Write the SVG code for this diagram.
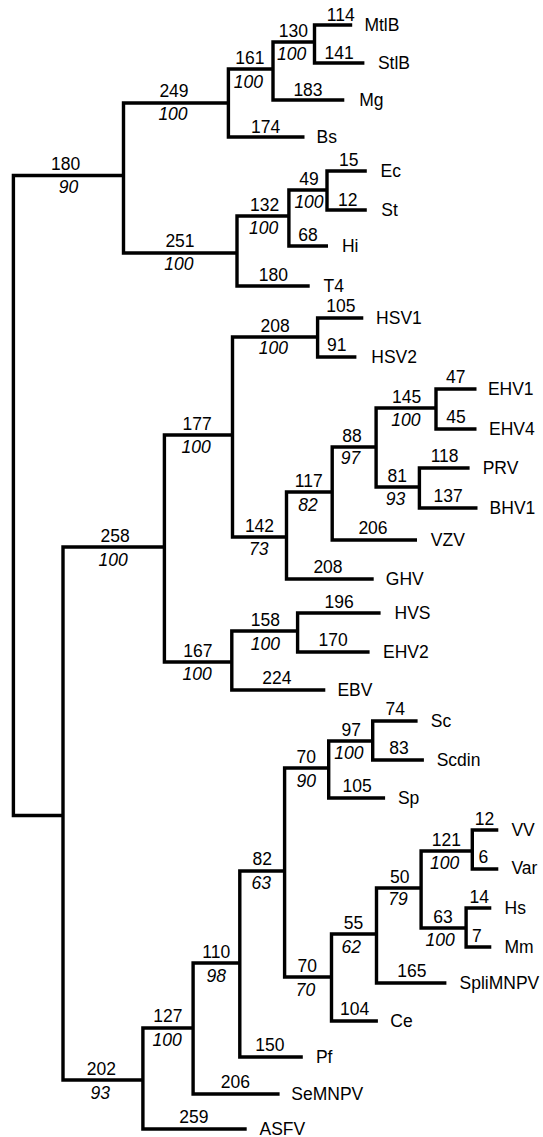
<svg xmlns="http://www.w3.org/2000/svg" width="543" height="1137" viewBox="0 0 543 1137">
<style>
text{font-family:"Liberation Sans",Arial,Helvetica,sans-serif;font-size:17.5px;fill:#000}
.n{text-anchor:middle}
.b{text-anchor:middle;font-style:italic}
.l{text-anchor:start}
.e{fill:none;stroke:#000;stroke-width:3.4;stroke-linejoin:miter;stroke-linecap:butt}
</style>
<rect width="543" height="1137" fill="#fff"/>
<g id="connectors" class="e">
<path d="M 123.5 175.5 H 13.4 V 815.5 H 63"/>
<path d="M 228.4 103 H 123.5 V 253 H 237"/>
<path d="M 273 69 H 228.4 V 137 H 304.5"/>
<path d="M 314.5 42 H 273 V 100 H 344.3"/>
<path d="M 352.2 25 H 314.5 V 63 H 364.4"/>
<path d="M 288.9 216 H 237 V 286 H 309.7"/>
<path d="M 327 190 H 288.9 V 246 H 328"/>
<path d="M 366.8 171 H 327 V 210 H 366.8"/>
<path d="M 164.4 547 H 63 V 1080 H 142.9"/>
<path d="M 232.5 435 H 164.4 V 662 H 231.8"/>
<path d="M 317.6 337 H 232.5 V 537 H 286.5"/>
<path d="M 363.3 318 H 317.6 V 357 H 356.4"/>
<path d="M 332.2 492 H 286.5 V 579 H 373.7"/>
<path d="M 376.1 447 H 332.2 V 540 H 417"/>
<path d="M 436 408 H 376.1 V 487 H 419.4"/>
<path d="M 476.5 389 H 436 V 429 H 476.5"/>
<path d="M 469.6 468 H 419.4 V 508 H 477.5"/>
<path d="M 297.6 631 H 231.8 V 690 H 325.3"/>
<path d="M 380.6 613 H 297.6 V 652 H 369.6"/>
<path d="M 193.1 1028 H 142.9 V 1129 H 246.7"/>
<path d="M 239.8 963 H 193.1 V 1094 H 279.6"/>
<path d="M 284.6 871 H 239.8 V 1057 H 302.8"/>
<path d="M 328.7 768 H 284.6 V 977 H 331.5"/>
<path d="M 372.7 741 H 328.7 V 798 H 385.1"/>
<path d="M 417.6 721 H 372.7 V 760 H 423.9"/>
<path d="M 376.5 934 H 331.5 V 1021 H 377.9"/>
<path d="M 421.1 888 H 376.5 V 983 H 446.4"/>
<path d="M 472.3 851 H 421.1 V 928 H 466.1"/>
<path d="M 498.3 830 H 472.3 V 869 H 498.3"/>
<path d="M 491.3 908 H 466.1 V 947 H 491.3"/>
</g>
<g id="internal-labels">
<g id="n180"><text class="n" x="65.7" y="170">180</text><text class="b" x="68.5" y="193">90</text></g>
<g id="n249"><text class="n" x="174" y="97">249</text><text class="b" x="173" y="120">100</text></g>
<g id="n161"><text class="n" x="249.8" y="64">161</text><text class="b" x="248.4" y="88">100</text></g>
<g id="n130"><text class="n" x="293.4" y="37">130</text><text class="b" x="291.7" y="60">100</text></g>
<g id="n251"><text class="n" x="180" y="247">251</text><text class="b" x="178.9" y="270">100</text></g>
<g id="n132"><text class="n" x="264.7" y="211">132</text><text class="b" x="263.7" y="234">100</text></g>
<g id="n49"><text class="n" x="309" y="185">49</text><text class="b" x="309" y="208">100</text></g>
<g id="n258"><text class="n" x="115.2" y="542">258</text><text class="b" x="113.1" y="566">100</text></g>
<g id="n177"><text class="n" x="197.2" y="430">177</text><text class="b" x="196.2" y="453">100</text></g>
<g id="n208"><text class="n" x="275.1" y="332">208</text><text class="b" x="273.4" y="354">100</text></g>
<g id="n142"><text class="n" x="259.5" y="532">142</text><text class="b" x="258.8" y="555">73</text></g>
<g id="n117"><text class="n" x="308.7" y="487">117</text><text class="b" x="308" y="511">82</text></g>
<g id="n88"><text class="n" x="351.9" y="442">88</text><text class="b" x="350.5" y="464">97</text></g>
<g id="n145"><text class="n" x="406.6" y="403">145</text><text class="b" x="405.9" y="426">100</text></g>
<g id="n81"><text class="n" x="397.2" y="482">81</text><text class="b" x="395.5" y="505">93</text></g>
<g id="n167"><text class="n" x="197.9" y="657">167</text><text class="b" x="197.2" y="680">100</text></g>
<g id="n158"><text class="n" x="265.4" y="626">158</text><text class="b" x="265.4" y="650">100</text></g>
<g id="n202"><text class="n" x="101.4" y="1075">202</text><text class="b" x="100.3" y="1099">93</text></g>
<g id="n127"><text class="n" x="167.8" y="1022">127</text><text class="b" x="167.1" y="1046">100</text></g>
<g id="n110"><text class="n" x="216.3" y="958">110</text><text class="b" x="216.3" y="982">98</text></g>
<g id="n82"><text class="n" x="262.3" y="865">82</text><text class="b" x="261.2" y="889">63</text></g>
<g id="n70a"><text class="n" x="306.2" y="763">70</text><text class="b" x="306.2" y="787">90</text></g>
<g id="n97"><text class="n" x="351.2" y="736">97</text><text class="b" x="348.8" y="759">100</text></g>
<g id="n70b"><text class="n" x="307.3" y="972">70</text><text class="b" x="305.5" y="996">70</text></g>
<g id="n55"><text class="n" x="353.6" y="929">55</text><text class="b" x="351.2" y="953">62</text></g>
<g id="n50"><text class="n" x="399.7" y="883">50</text><text class="b" x="397.9" y="905">79</text></g>
<g id="n121"><text class="n" x="446.4" y="846">121</text><text class="b" x="444.6" y="869">100</text></g>
<g id="n63"><text class="n" x="442.9" y="923">63</text><text class="b" x="440.1" y="946">100</text></g>
</g>
<g id="leaves">
<g id="MtlB"><text class="n" x="340.8" y="21">114</text><text class="l" x="364.4" y="31">MtlB</text></g>
<g id="StlB"><text class="n" x="339.1" y="59">141</text><text class="l" x="377.9" y="69">StlB</text></g>
<g id="Mg"><text class="n" x="308" y="96">183</text><text class="l" x="359.2" y="106">Mg</text></g>
<g id="Bs"><text class="n" x="265.7" y="133">174</text><text class="l" x="316.6" y="143">Bs</text></g>
<g id="Ec"><text class="n" x="348.8" y="166">15</text><text class="l" x="380.6" y="177">Ec</text></g>
<g id="St"><text class="n" x="347.8" y="206">12</text><text class="l" x="381.3" y="216">St</text></g>
<g id="Hi"><text class="n" x="308" y="241">68</text><text class="l" x="341.9" y="252">Hi</text></g>
<g id="T4"><text class="n" x="273.4" y="281">180</text><text class="l" x="323.5" y="292">T4</text></g>
<g id="HSV1"><text class="n" x="340.8" y="312">105</text><text class="l" x="376.1" y="324">HSV1</text></g>
<g id="HSV2"><text class="n" x="336.7" y="351">91</text><text class="l" x="371.3" y="363">HSV2</text></g>
<g id="EHV1"><text class="n" x="455.7" y="383">47</text><text class="l" x="487.9" y="395">EHV1</text></g>
<g id="EHV4"><text class="n" x="456" y="423">45</text><text class="l" x="489" y="435">EHV4</text></g>
<g id="PRV"><text class="n" x="444.6" y="462">118</text><text class="l" x="482.7" y="474">PRV</text></g>
<g id="BHV1"><text class="n" x="448.1" y="502">137</text><text class="l" x="489.6" y="514">BHV1</text></g>
<g id="VZV"><text class="n" x="373" y="534">206</text><text class="l" x="430.8" y="546">VZV</text></g>
<g id="GHV"><text class="n" x="328" y="573">208</text><text class="l" x="385.8" y="585">GHV</text></g>
<g id="HVS"><text class="n" x="339.1" y="608">196</text><text class="l" x="394.5" y="619">HVS</text></g>
<g id="EHV2"><text class="n" x="333.2" y="646">170</text><text class="l" x="383" y="658">EHV2</text></g>
<g id="EBV"><text class="n" x="276.8" y="684">224</text><text class="l" x="337.4" y="696">EBV</text></g>
<g id="Sc"><text class="n" x="395.2" y="715">74</text><text class="l" x="430.8" y="727">Sc</text></g>
<g id="Scdin"><text class="n" x="399" y="754">83</text><text class="l" x="436.7" y="766">Scdin</text></g>
<g id="Sp"><text class="n" x="357.1" y="792">105</text><text class="l" x="397.9" y="804">Sp</text></g>
<g id="VV"><text class="n" x="484.4" y="825">12</text><text class="l" x="511.4" y="836">VV</text></g>
<g id="Var"><text class="n" x="483.4" y="863">6</text><text class="l" x="511.4" y="874">Var</text></g>
<g id="Hs"><text class="n" x="479.2" y="903">14</text><text class="l" x="504.5" y="914">Hs</text></g>
<g id="Mm"><text class="n" x="476.8" y="942">7</text><text class="l" x="504.5" y="953">Mm</text></g>
<g id="SpliMNPV"><text class="n" x="411.8" y="977">165</text><text class="l" x="459.5" y="989">SpliMNPV</text></g>
<g id="Ce"><text class="n" x="354.7" y="1015">104</text><text class="l" x="390.3" y="1027">Ce</text></g>
<g id="Pf"><text class="n" x="269.9" y="1051">150</text><text class="l" x="315.9" y="1063">Pf</text></g>
<g id="SeMNPV"><text class="n" x="235.3" y="1088">206</text><text class="l" x="291.3" y="1100">SeMNPV</text></g>
<g id="ASFV"><text class="n" x="193.8" y="1123">259</text><text class="l" x="259.5" y="1135">ASFV</text></g>
</g>
</svg>
